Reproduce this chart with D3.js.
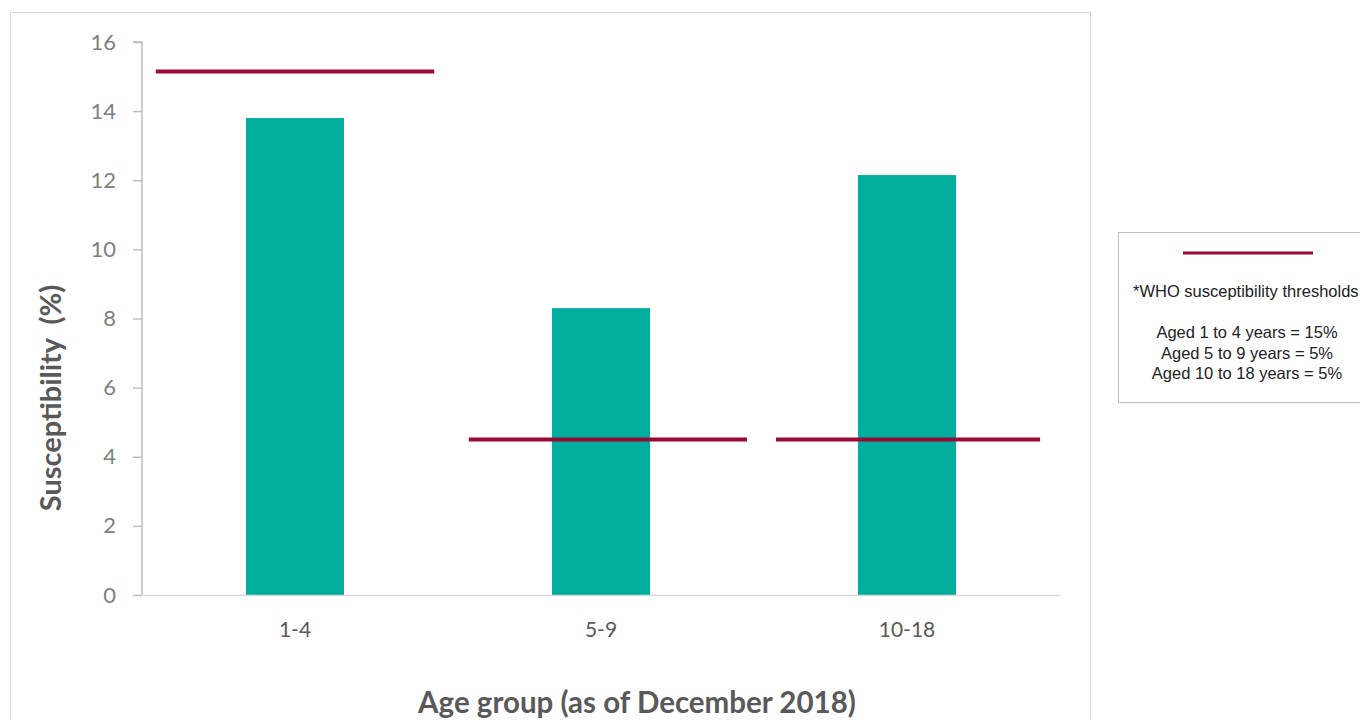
<!DOCTYPE html>
<html><head><meta charset="utf-8">
<script src="https://cdn.jsdelivr.net/npm/d3@7"></script>
<style>body{margin:0;background:#fff;}svg{display:block;}</style>
</head><body>
<svg id="chart" width="1360" height="720"></svg>
<script>
const categories = ["1-4", "5-9", "10-18"];
const susceptibility = [13.8, 8.3, 12.15];
const thresholdValues = [15.15, 4.5, 4.5];
const thresholdStart = [-0.455, -0.432, -0.428];
const thresholdEnd = [0.455, 0.477, 0.435];
const yTicks = [0, 2, 4, 6, 8, 10, 12, 14, 16];
const legendTitle = "*WHO susceptibility thresholds";
const legendLines = ["Aged 1 to 4 years = 15%", "Aged 5 to 9 years = 5%", "Aged 10 to 18 years = 5%"];

(function () {
const svg = d3.select("#chart");
const teal = "#00AE9D", crimson = "#990A35";
const font = "Lato, 'Open Sans', sans-serif";
const legendFont = "'Liberation Sans', Arial, sans-serif";

// outer chart border
svg.append("rect").attr("x", 10.5).attr("y", 12.5).attr("width", 1080).attr("height", 720)
  .attr("fill", "none").attr("stroke", "#d9d9d9");

const pl = 142, pr = 1060, pt = 42, pb = 595;
const x = d3.scaleBand().domain(categories).range([pl, pr]).paddingInner(0.32).paddingOuter(0.16);
const xl = d3.scaleLinear().domain([-0.5, categories.length - 0.5]).range([pl, pr]);
const y = d3.scaleLinear().domain([0, 16]).range([pb, pt]);

// y axis
const yAxis = svg.append("g").attr("transform", `translate(${pl},0)`)
  .call(d3.axisLeft(y).tickValues(yTicks).tickSize(9).tickPadding(17));
yAxis.select(".domain").attr("stroke", "#bfbfbf").attr("stroke-width", 1.5).attr("d", `M-9,${pt}H0V${pb}`);
yAxis.selectAll(".tick line").attr("stroke", "#bfbfbf").attr("stroke-width", 1.5);
yAxis.selectAll(".tick text").attr("fill", "#7f7f7f").style("font-family", font).style("font-size", "22px");

// bars
const bw = 98;
svg.append("g").selectAll("rect").data(categories).join("rect")
  .attr("x", (d) => x(d) + x.bandwidth() / 2 - bw / 2)
  .attr("width", bw)
  .attr("y", (d, i) => y(susceptibility[i]))
  .attr("height", (d, i) => y(0) - y(susceptibility[i]))
  .attr("fill", teal);

// x axis
const xAxis = svg.append("g").attr("transform", `translate(0,${pb})`)
  .call(d3.axisBottom(x).tickSize(0).tickPadding(27));
xAxis.select(".domain").attr("stroke", "#d9d9d9").attr("stroke-width", 1.5);
xAxis.selectAll(".tick text").attr("fill", "#595959").style("font-family", font).style("font-size", "21px");

// threshold lines
svg.append("g").selectAll("line").data(categories).join("line")
  .attr("x1", (d, i) => xl(i + thresholdStart[i]))
  .attr("x2", (d, i) => xl(i + thresholdEnd[i]))
  .attr("y1", (d, i) => y(thresholdValues[i]))
  .attr("y2", (d, i) => y(thresholdValues[i]))
  .attr("stroke", crimson).attr("stroke-width", 4);

// axis titles
svg.append("text").attr("transform", "translate(61,398) rotate(-90)")
  .attr("text-anchor", "middle").attr("fill", "#595959").attr("xml:space", "preserve")
  .style("white-space", "pre")
  .style("font-family", font).style("font-weight", "bold").style("font-size", "29px")
  .text("Susceptibility  (%)");
svg.append("text").attr("x", 637).attr("y", 713).attr("text-anchor", "middle").attr("fill", "#595959")
  .style("font-family", font).style("font-weight", "bold").style("font-size", "29.5px")
  .text("Age group (as of December 2018)");

// legend
const lg = svg.append("g");
lg.append("rect").attr("x", 1118.5).attr("y", 232.5).attr("width", 260).attr("height", 170)
  .attr("fill", "#fff").attr("stroke", "#bfbfbf");
lg.append("line").attr("x1", 1183).attr("x2", 1313).attr("y1", 253).attr("y2", 253)
  .attr("stroke", crimson).attr("stroke-width", 3);
lg.append("text").attr("x", 1133).attr("y", 297).attr("fill", "#222")
  .style("font-family", legendFont).style("font-size", "16.5px")
  .text(legendTitle);
lg.selectAll("text.l").data(legendLines).join("text").attr("class", "l")
  .attr("x", 1247).attr("y", (d, i) => 338 + i * 20.5).attr("text-anchor", "middle").attr("fill", "#222")
  .style("font-family", legendFont).style("font-size", "16.5px")
  .text((d) => d);
})();
</script>
</body></html>
